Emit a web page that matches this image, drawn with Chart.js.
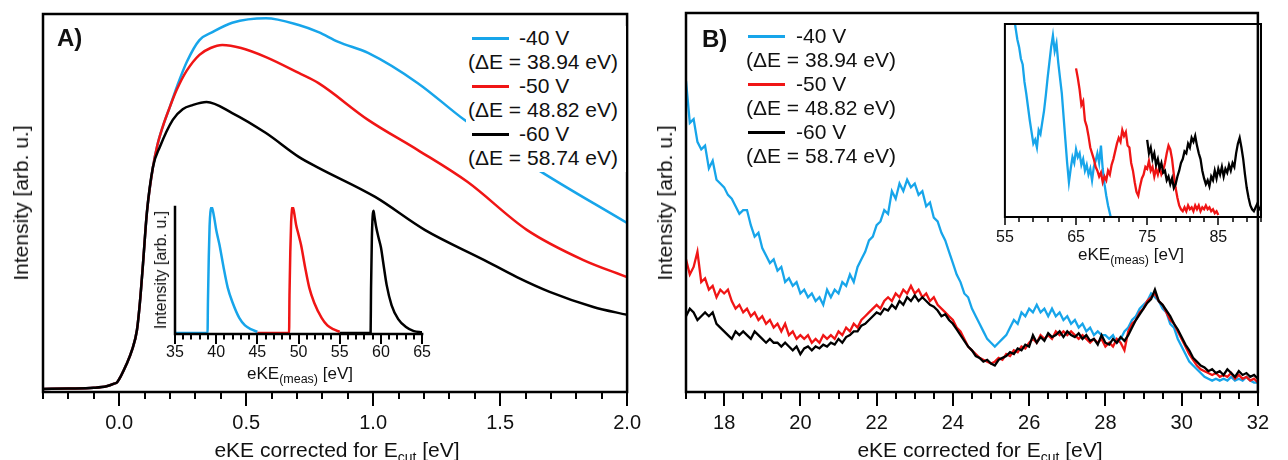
<!DOCTYPE html>
<html lang="en">
<head>
    <meta charset="UTF-8">
    <title>eKE spectra</title>
    <script src="https://cdn.jsdelivr.net/npm/chart.js"></script>
    <style>
        body { margin: 0; background: #fff; }
        #page { position: relative; width: 1288px; height: 460px; overflow: hidden;
                font-family: "Liberation Sans", Arial, sans-serif; color: #111; }
        canvas { position: absolute; }
        .txt { position: absolute; white-space: nowrap; font-size: 21px; line-height: 24px; }
        .small { font-size: 17px; line-height: 20px; }
        .sub { font-size: 14px; position: relative; top: 5px; }
        .small .sub { font-size: 12.5px; top: 4px; }
        .rot { transform: translate(-50%, -50%) rotate(-90deg); }
        .ctr { transform: translateX(-50%); }
        .legend { position: absolute; width: 160px; height: 146px; background: #fff; }
        .legend .sample { position: absolute; width: 37px; height: 2.5px; }
    </style>
</head>
<body>
<div id="page">
    <canvas id="mainA" width="660" height="460" style="left:0;top:0"></canvas>
    <canvas id="insetA" width="300" height="195" style="left:140px;top:195px"></canvas>
    <canvas id="mainB" width="628" height="460" style="left:660px;top:0"></canvas>
    <canvas id="insetB" width="300" height="255" style="left:985px;top:15px"></canvas>

    <div class="txt" style="left:57px;top:24px;font-size:24px;line-height:28px;font-weight:bold">A)</div>
    <div class="txt" style="left:702px;top:25px;font-size:24px;line-height:28px;font-weight:bold">B)</div>

    <div class="txt rot" style="left:21px;top:203px">Intensity [arb. u.]</div>
    <div class="txt rot" style="left:665px;top:203px">Intensity [arb. u.]</div>
    <div class="txt ctr" style="left:337px;top:438px">eKE corrected for E<span class="sub">cut</span> [eV]</div>
    <div class="txt ctr" style="left:980px;top:438px">eKE corrected for E<span class="sub">cut</span> [eV]</div>

    <div class="txt small rot" style="left:161px;top:270px;font-size:16px">Intensity [arb. u.]</div>
    <div class="txt small ctr" style="left:300px;top:364px">eKE<span class="sub">(meas)</span> [eV]</div>
    <div class="txt small ctr" style="left:1131px;top:245px">eKE<span class="sub">(meas)</span> [eV]</div>

    <div class="legend" id="legendA" style="left:466px;top:26px"></div>
    <div class="legend" id="legendB" style="left:744px;top:24px;background:transparent"></div>
</div>

<script>
    // series
    const seriesNames = ['-40 V', '-50 V', '-60 V'];
    const deltaE = ['38.94', '48.82', '58.74'];
    const seriesColors = ['#17a5ea', '#f01515', '#000000'];

    // A) high energy cut-off, x = eKE corrected [eV], y = intensity
    const aEdge = [[-0.3, 0.008], [-0.2, 0.009], [-0.1, 0.011], [-0.05, 0.015], [-0.02, 0.022],
        [-0.008, 0.026], [0.031, 0.077], [0.05, 0.11], [0.07, 0.164], [0.082, 0.24], [0.094, 0.341],
        [0.109, 0.474], [0.133, 0.595]];
    const aBlue = [[0.15, 0.652], [0.172, 0.703], [0.2, 0.755], [0.227, 0.807], [0.266, 0.873],
        [0.316, 0.931], [0.367, 0.952], [0.445, 0.977], [0.578, 0.989], [0.707, 0.971], [0.785, 0.952],
        [0.863, 0.926], [0.98, 0.897], [1.176, 0.817], [1.359, 0.72], [1.637, 0.593], [2.0, 0.447]];
    const aRed = [[0.15, 0.652], [0.172, 0.703], [0.2, 0.755], [0.227, 0.8], [0.266, 0.85],
        [0.316, 0.892], [0.36, 0.91], [0.406, 0.918], [0.48, 0.91], [0.578, 0.886], [0.707, 0.844],
        [0.785, 0.817], [0.98, 0.72], [1.176, 0.64], [1.371, 0.556], [1.605, 0.429], [1.828, 0.349],
        [2.0, 0.304]];
    const aBlack = [[0.16, 0.648], [0.211, 0.72], [0.25, 0.748], [0.289, 0.759], [0.344, 0.767],
        [0.445, 0.738], [0.578, 0.685], [0.707, 0.622], [0.785, 0.593], [1.008, 0.516], [1.203, 0.429],
        [1.4375, 0.349], [1.566, 0.304], [1.695, 0.265], [1.867, 0.225], [2.0, 0.204]];

    // A) inset, x = eKE(meas) [eV]
    const iaBlue = [[35, 0], [38.95, 0], [39.0, 0.25], [39.1, 0.6], [39.2, 0.85], [39.3, 0.96],
        [39.45, 1.0], [39.6, 0.97], [39.8, 0.9], [40.0, 0.82], [40.4, 0.7], [40.9, 0.52], [41.4, 0.36],
        [42.0, 0.24], [42.8, 0.12], [43.5, 0.06], [44.2, 0.03], [45, 0.01]];
    const iaRed = [[45, 0], [48.85, 0], [48.9, 0.3], [49.0, 0.65], [49.1, 0.88], [49.2, 0.98],
        [49.3, 1.0], [49.45, 0.96], [49.7, 0.86], [50.0, 0.78], [50.3, 0.7], [50.8, 0.52], [51.3, 0.36],
        [51.9, 0.24], [52.8, 0.12], [53.5, 0.06], [54.2, 0.03], [55, 0.01]];
    const iaBlack = [[55, 0], [58.75, 0], [58.8, 0.35], [58.9, 0.75], [59.0, 0.93], [59.1, 0.97],
        [59.2, 0.93], [59.4, 0.85], [59.7, 0.76], [60.0, 0.68], [60.3, 0.55], [60.7, 0.38], [61.3, 0.22],
        [62.1, 0.11], [63.0, 0.05], [64.0, 0.015], [65, 0.005]];

    // B) spectra sampled every 0.1 eV from 17.0 to 32.0
    const bStart = 17, bStep = 0.1;
    const bBlue = [
        82, 71, 72, 66, 64, 65, 59, 61, 56, 55,
        54, 52, 51, 49, 47, 48, 48, 44, 41, 42,
        38, 36, 34, 35, 32, 33, 29, 30, 28, 29,
        26, 27, 25, 26, 24, 25, 23, 27, 25, 27,
        26, 29, 28, 31, 29, 33, 35, 37, 40, 41,
        44, 45, 48, 47, 53, 51, 55, 53, 56, 54,
        55, 52, 53, 49, 50, 46, 45, 42, 40, 37,
        34, 31, 29, 26, 25, 22, 20, 18, 16, 14,
        13, 12, 13, 14, 15, 17, 19, 18, 21, 20,
        22, 21, 23, 21, 22, 20, 22, 20, 21, 19,
        20, 18, 19, 17, 18, 16, 17, 15, 16, 15,
        15, 14, 15, 13, 14, 16, 17, 19, 20, 22,
        23, 24, 26, 25, 24, 22, 21, 18, 17, 14,
        12, 10, 8, 7, 6, 5, 4, 3.5, 3, 3.5,
        3, 3.5, 3, 4, 3, 3.5, 3, 4, 3, 2.5,
        2.5];
    const bRed = [
        35, 31, 33, 37, 29, 30, 27, 28, 25, 27,
        26, 27, 24, 22, 23, 21, 22, 20, 21, 19,
        20, 18, 19, 17, 18, 16, 18, 15, 16, 14,
        15, 14, 15, 13, 14, 13, 15, 14, 15, 14,
        16, 15, 17, 16, 18, 17, 19, 20, 21, 22,
        23, 22, 24, 25, 24, 26, 25, 27, 26, 28,
        26, 27, 25, 26, 24, 25, 23, 22, 21, 20,
        19, 17, 16, 14, 12, 11, 10, 9, 8.5, 8,
        7.5, 8, 9, 8.5, 10, 9.5, 11, 10.5, 12, 11.5,
        13, 14, 13, 15, 14, 15, 14, 16, 15, 16,
        15, 16, 15, 14, 15, 14, 13, 14, 13, 14,
        12, 13, 12, 14, 13, 11, 16, 18, 19, 21,
        22, 24, 25, 26, 24, 23, 21, 19, 18, 16,
        14, 12, 10, 8.5, 7, 6, 5.5, 5, 4.5, 5,
        4, 4.5, 4, 5, 3.5, 4.5, 3.5, 4, 3, 3.5,
        2.5];
    const bBlack = [
        20, 22, 21, 19, 20, 21, 20, 21, 18, 17,
        16, 15, 14, 16, 15, 16, 15, 14, 16, 15,
        14, 13, 14, 13, 13, 12, 13, 12, 11, 12,
        10, 11.5, 12, 11, 12, 11.5, 12.5, 12, 13, 12.5,
        14, 13, 14.5, 15, 16, 16, 17.5, 18, 19, 20,
        21, 20.5, 22, 21.5, 23, 22, 24, 23, 25, 24,
        25.5, 24, 25, 24, 23, 22.5, 21.5, 20, 20.5, 19,
        18, 16.5, 15, 13.5, 12, 11, 9.5, 9, 8, 8.5,
        7.5, 7, 8.5, 9, 9.5, 10.5, 10, 11.5, 11, 12.5,
        12, 15, 13, 14.5, 13.5, 15.5, 14.5, 15, 16, 14.5,
        16, 15, 14.5, 15.5, 14, 15, 13.5, 14, 12.5, 15,
        13, 12.5, 14, 13, 14.5, 13.5, 15, 17, 19, 20.5,
        22, 23.5, 24.5, 27, 24, 23, 21.5, 20, 18, 16.5,
        14.5, 12.5, 11, 9, 8, 7, 6.5, 5.5, 6, 5,
        5.5, 4.5, 6, 5, 4, 5.5, 4.5, 5, 4, 4.5,
        3.5];

    // B) inset, sampled every 0.25 eV
    const ibStep = 0.25;
    const ibBlueStart = 56, ibRedStart = 65, ibBlackStart = 75;
    const ibBlue = [
        1.15, 1.05, 0.98, 0.92,
        0.88, 0.82, 0.79, 0.70,
        0.64, 0.57, 0.50, 0.44,
        0.38, 0.40, 0.36, 0.45,
        0.43, 0.49, 0.55, 0.63,
        0.72, 0.80, 0.88, 0.94,
        0.86, 0.90, 0.80, 0.72,
        0.64, 0.52, 0.40, 0.28,
        0.18, 0.25, 0.31, 0.28,
        0.35, 0.31, 0.33, 0.27,
        0.30, 0.24, 0.27, 0.22,
        0.25, 0.19, 0.26, 0.29,
        0.33, 0.28, 0.37, 0.25,
        0.17, 0.11, 0.06, 0.02,
        -0.02];
    const ibRed = [
        0.77, 0.72, 0.66, 0.58,
        0.60, 0.50, 0.47, 0.42,
        0.36, 0.33, 0.30, 0.26,
        0.24, 0.21, 0.23, 0.18,
        0.21, 0.19, 0.24, 0.22,
        0.27, 0.30, 0.34, 0.38,
        0.41, 0.39, 0.45, 0.42,
        0.44, 0.37, 0.36, 0.28,
        0.24, 0.18, 0.13, 0.11,
        0.16, 0.20, 0.22, 0.26,
        0.25, 0.29, 0.24, 0.26,
        0.21, 0.25, 0.22, 0.26,
        0.22, 0.24, 0.28, 0.33,
        0.37, 0.35, 0.30, 0.22,
        0.15, 0.10, 0.06, 0.04,
        0.03, 0.05, 0.03, 0.06,
        0.04, 0.05, 0.03, 0.06,
        0.04, 0.06, 0.03, 0.05,
        0.04, 0.06, 0.04, 0.05,
        0.03, 0.04, 0.02, 0.03,
        0.01];
    const ibBlack = [
        0.40, 0.33, 0.36, 0.30,
        0.33, 0.27, 0.30, 0.25,
        0.28, 0.23, 0.24, 0.19,
        0.21, 0.17, 0.20, 0.15,
        0.17, 0.21, 0.24, 0.28,
        0.30, 0.34, 0.33, 0.38,
        0.36, 0.41, 0.39, 0.42,
        0.37, 0.33, 0.30, 0.24,
        0.20, 0.17, 0.19, 0.16,
        0.21, 0.19, 0.24, 0.20,
        0.25, 0.22, 0.26, 0.21,
        0.25, 0.23, 0.27, 0.24,
        0.28, 0.26, 0.33, 0.38,
        0.41, 0.36, 0.30, 0.22,
        0.15, 0.10, 0.06, 0.04,
        0.03, 0.05, 0.07, 0.04,
        0.05];

    const fontFamily = '"Liberation Sans", Arial, sans-serif';

    function pairs(arr) {
        return arr.map(p => ({ x: p[0], y: p[1] }));
    }

    function sampled(values, start, step) {
        return values.map((y, i) => ({ x: +(start + i * step).toFixed(3), y: y }));
    }

    function isMajor(v, origin, every) {
        const k = (v - origin) / every;
        return v >= origin - 1e-9 && Math.abs(k - Math.round(k)) < 1e-6;
    }

    // frame + hand drawn tick marks (long for labelled ticks, short otherwise)
    const frameTicks = {
        id: 'frameTicks',
        afterDraw(chart, args, opts) {
            const { ctx, chartArea: a } = chart;
            const xs = chart.scales.x;
            ctx.save();
            ctx.strokeStyle = '#000';
            ctx.lineWidth = opts.lineWidth;
            ctx.lineCap = 'square';
            ctx.beginPath();
            if (opts.box) {
                ctx.rect(a.left, a.top, a.right - a.left, a.bottom - a.top);
            } else {
                ctx.moveTo(a.left, a.top);
                ctx.lineTo(a.left, a.bottom);
                ctx.lineTo(a.right, a.bottom);
            }
            ctx.stroke();
            ctx.lineCap = 'butt';
            ctx.lineWidth = opts.tickWidth;
            ctx.beginPath();
            xs.ticks.forEach(t => {
                const px = Math.round(xs.getPixelForValue(t.value));
                const len = t.label ? opts.major : opts.minor;
                ctx.moveTo(px, a.bottom);
                ctx.lineTo(px, a.bottom + len);
            });
            ctx.stroke();
            ctx.restore();
        }
    };

    function xAxis(c) {
        return {
            type: 'linear',
            min: c.min,
            max: c.max,
            afterBuildTicks: s => {
                const n = Math.round((c.max - c.min) / c.step);
                const out = [];
                for (let i = 0; i <= n; i++) out.push({ value: +(c.min + i * c.step).toFixed(4) });
                s.ticks = out;
            },
            afterFit: s => { s.height = c.height; },
            grid: { display: false, drawTicks: false },
            border: { display: false },
            ticks: {
                autoSkip: false, maxRotation: 0, minRotation: 0,
                padding: c.padding, color: '#111',
                font: { family: fontFamily, size: c.fontSize },
                callback: v => isMajor(v, c.labelFrom, c.labelEvery) ? c.fmt(v) : ''
            }
        };
    }

    function line(data, color, width, smooth) {
        return {
            data: data, borderColor: color, borderWidth: width, fill: false,
            pointRadius: 0, tension: 0,
            cubicInterpolationMode: smooth ? 'monotone' : 'default'
        };
    }

    function makeChart(id, datasets, xCfg, yMin, yMax, padding, frame) {
        return new Chart(document.getElementById(id), {
            type: 'line',
            data: { datasets: datasets },
            options: {
                responsive: false,
                animation: false,
                events: [],
                layout: { padding: padding },
                plugins: { legend: { display: false }, tooltip: { enabled: false }, frameTicks: frame },
                scales: {
                    x: xAxis(xCfg),
                    y: { type: 'linear', display: false, min: yMin, max: yMax }
                }
            },
            plugins: [frameTicks]
        });
    }

    const [cBlue, cRed, cBlack] = seriesColors;

    // A) main
    makeChart('mainA', [
        line(pairs(aEdge.concat(aBlack)), cBlack, 2.5, true),
        line(pairs(aEdge.concat(aRed)), cRed, 2.5, true),
        line(pairs(aEdge.concat(aBlue)), cBlue, 2.5, true)
    ], { min: -0.3, max: 2.0, step: 0.1, labelFrom: 0, labelEvery: 0.5, fmt: v => v.toFixed(1),
         height: 68, padding: 19, fontSize: 20 },
       0, 1, { left: 43, top: 14, right: 30, bottom: 0 },
       { box: true, lineWidth: 2.5, tickWidth: 2, major: 14, minor: 7 });

    // A) inset
    makeChart('insetA', [
        line(pairs(iaBlack), cBlack, 2.5, true),
        line(pairs(iaRed), cRed, 2.5, true),
        line(pairs(iaBlue), cBlue, 2.5, true)
    ], { min: 35, max: 65, step: 1, labelFrom: 35, labelEvery: 5, fmt: v => String(v),
         height: 56, padding: 9, fontSize: 16 },
       -0.008, 1.0, { left: 35, top: 12, right: 16, bottom: 0 },
       { box: false, lineWidth: 2.5, tickWidth: 2, major: 10, minor: 5.5 });

    // B) main
    makeChart('mainB', [
        line(sampled(bBlack, bStart, bStep), cBlack, 2.3, false),
        line(sampled(bRed, bStart, bStep), cRed, 2.3, false),
        line(sampled(bBlue, bStart, bStep), cBlue, 2.3, false)
    ], { min: 17, max: 32, step: 0.5, labelFrom: 18, labelEvery: 2, fmt: v => String(v),
         height: 68, padding: 19, fontSize: 20 },
       0, 100, { left: 26, top: 13, right: 15, bottom: 0 },
       { box: true, lineWidth: 2.5, tickWidth: 2, major: 14, minor: 7 });

    // B) inset
    makeChart('insetB', [
        line(sampled(ibBlack, ibBlackStart, ibStep), cBlack, 2.3, false),
        line(sampled(ibRed, ibRedStart, ibStep), cRed, 2.3, false),
        line(sampled(ibBlue, ibBlueStart, ibStep), cBlue, 2.3, false)
    ], { min: 55, max: 91, step: 2, labelFrom: 55, labelEvery: 10, fmt: v => String(v),
         height: 53, padding: 11, fontSize: 16 },
       0, 1, { left: 19, top: 9, right: 24, bottom: 0 },
       { box: true, lineWidth: 2, tickWidth: 1.5, major: 8, minor: 5 });

    // legends
    function buildLegend(boxId, sampleLeft, nameLeft) {
        const box = document.getElementById(boxId);
        seriesNames.forEach((name, i) => {
            const sample = document.createElement('div');
            sample.className = 'sample';
            sample.style.left = sampleLeft + 'px';
            sample.style.top = (48 * i + 11) + 'px';
            sample.style.background = seriesColors[i];
            box.appendChild(sample);

            const label = document.createElement('div');
            label.className = 'txt';
            label.style.left = nameLeft + 'px';
            label.style.top = (48 * i) + 'px';
            label.textContent = name;
            box.appendChild(label);

            const de = document.createElement('div');
            de.className = 'txt';
            de.style.left = '2px';
            de.style.top = (48 * i + 24) + 'px';
            de.textContent = '(\u0394E = ' + deltaE[i] + ' eV)';
            box.appendChild(de);
        });
    }

    buildLegend('legendA', 6, 53);
    buildLegend('legendB', 4, 52);
</script>
</body>
</html>
